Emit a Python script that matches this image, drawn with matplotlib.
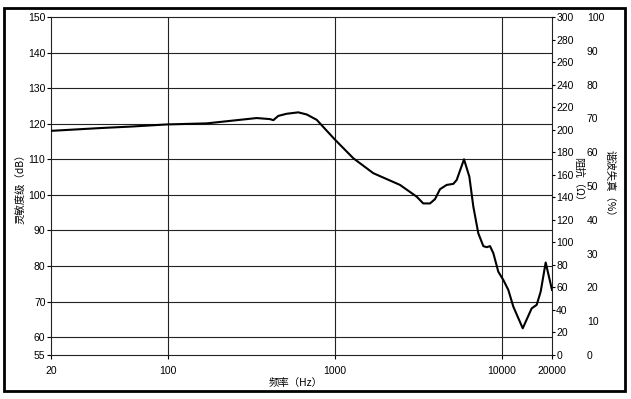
import matplotlib
matplotlib.use("Agg")
import matplotlib.pyplot as plt
from matplotlib.patches import Rectangle

freq = [20, 40, 60, 98.6, 171, 341, 410, 429, 459, 515, 605, 680, 780, 1000,
        1292, 1702, 2460, 3096, 3390, 3720, 3985, 4270, 4680, 5130, 5375, 5945,
        6400, 6760, 7240, 7760, 8130, 8510, 8910, 9540, 10220, 10950, 11730,
        13360, 15110, 16190, 17110, 18330, 20000]
spl = [118.0, 118.8, 119.2, 119.8, 120.1, 121.6, 121.3, 121.0, 122.2, 122.8, 123.2,
       122.6, 121.1, 115.6, 110.3, 106.1, 102.8, 99.5, 97.6, 97.6, 98.8, 101.6,
       102.8, 103.1, 104.2, 110.0, 105.1, 96.7, 89.2, 85.6, 85.3, 85.6, 83.6,
       78.4, 76.1, 73.3, 68.6, 62.5, 68.1, 69.1, 72.8, 81.0, 73.3]

xticks = [20, 100, 1000, 10000, 20000]
spl_ticks = [55, 60, 70, 80, 90, 100, 110, 120, 130, 140, 150]
grid_spl = [60, 70, 80, 90, 100, 110, 120, 130, 140]
imp_ticks = list(range(0, 301, 20))
thd_ticks = list(range(0, 101, 10))

cjk = ['Noto Sans CJK SC', 'DejaVu Sans']
numfont = ['Liberation Sans Narrow', 'Liberation Sans', 'DejaVu Sans']
plt.rcParams['font.family'] = numfont

W, H = 631, 399
fig = plt.figure(figsize=(W / 100, H / 100), dpi=100)
fig.patch.set_facecolor('white')

# outer frame
fig.add_artist(Rectangle((4 / W, 1 - 391 / H), (625 - 4) / W, (391 - 8) / H,
                         transform=fig.transFigure, fill=False, lw=2.0, ec='black'))

L, R, T, B = 51, 552, 17, 355
ax = fig.add_axes([L / W, 1 - B / H, (R - L) / W, (B - T) / H])
ax.set_xscale('log')
ax.set_xlim(20, 20000)
ax.set_ylim(55, 150)
for s in ax.spines.values():
    s.set_linewidth(0.8)
    s.set_color('#222222')

for v in grid_spl:
    ax.axhline(v, color='#222222', lw=0.8, zorder=1)
for v in [100, 1000, 10000]:
    ax.axvline(v, color='#222222', lw=0.8, zorder=1)

ax.plot(freq, spl, color='black', lw=1.5, zorder=3)

ax.set_xticks(xticks)
ax.set_xticklabels([str(t) for t in xticks])
ax.xaxis.set_minor_locator(matplotlib.ticker.NullLocator())
ax.set_yticks(spl_ticks)
ax.set_yticklabels([str(t) for t in spl_ticks])
ax.tick_params(axis='both', direction='out', length=3, width=0.8, labelsize=7.5,
               colors='black')
ax.tick_params(axis='x', pad=5)
ax.tick_params(axis='y', pad=1)

# impedance axis
ax2 = ax.twinx()
ax2.set_ylim(0, 300)
ax2.set_yticks(imp_ticks)
ax2.set_yticklabels([str(t) for t in imp_ticks])
ax2.tick_params(axis='y', direction='out', length=2, width=0.8, labelsize=7.5, pad=1)
for s in ax2.spines.values():
    s.set_visible(False)

# distortion axis
ax3 = ax.twinx()
ax3.set_ylim(0, 100)
ax3.set_yticks(thd_ticks)
ax3.set_yticklabels([str(t) for t in thd_ticks])
ax3.spines['right'].set_position(('outward', 25))
for s in ax3.spines.values():
    s.set_visible(False)
ax3.tick_params(axis='y', length=0, labelsize=7.5, pad=0)

fig.text(21 / W, 1 - 186 / H, '灵敏度级（dB）', rotation=90, ha='center', va='center',
         fontsize=7.5, family=cjk)
fig.text(578 / W, 1 - 182 / H, '阻抗（Ω）', rotation=-90, ha='center', va='center',
         fontsize=7.5, family=cjk)
fig.text(610 / W, 1 - 186 / H, '谐波失真（%）', rotation=-90, ha='center', va='center',
         fontsize=7.5, family=cjk)
fig.text(296 / W, 1 - 383 / H, '频率（Hz）', ha='center', va='center',
         fontsize=7.5, family=cjk)

fig.savefig('out.png', dpi=100)
